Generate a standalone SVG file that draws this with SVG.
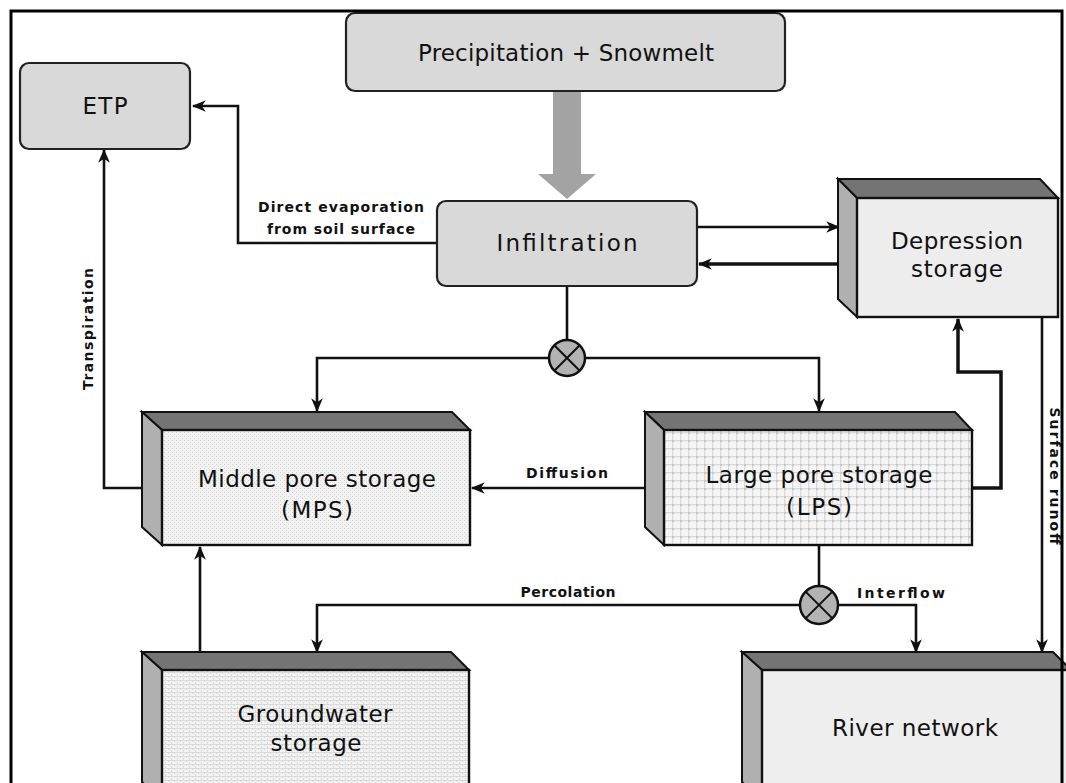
<svg xmlns="http://www.w3.org/2000/svg" width="1066" height="783" viewBox="0 0 1066 783">
<defs>
<style>
.rbox{fill:#d9d9d9;stroke:#222;stroke-width:2.2}
.top{fill:#747474;stroke:#111;stroke-width:2}
.side{fill:#b0b0b0;stroke:#111;stroke-width:2}
.front{stroke:#111;stroke-width:2.4}
.t{font-family:"DejaVu Sans","Liberation Sans",sans-serif;font-size:23px;fill:#111;text-anchor:middle}
.s{font-family:"DejaVu Sans","Liberation Sans",sans-serif;font-size:14px;font-weight:bold;fill:#111;text-anchor:middle}
.c{fill:none;stroke:#111;stroke-width:2.6}
.ck{fill:none;stroke:#111;stroke-width:3.5}
.x{fill:#b3b3b3;stroke:#111;stroke-width:2.5}
</style>
<marker id="ah" viewBox="0 0 12 10" refX="11" refY="5" markerWidth="14" markerHeight="12" orient="auto" markerUnits="userSpaceOnUse"><path d="M0,0 L12,5 L0,10 L3.5,5 z" fill="#111"/></marker>
<pattern id="pFine" width="4" height="4" patternUnits="userSpaceOnUse"><rect width="4" height="4" fill="#f2f2f2"/><rect x="0" y="0" width="1" height="1" fill="#cfcfcf"/><rect x="2" y="2" width="1" height="1" fill="#d6d6d6"/></pattern>
<pattern id="pGrid" width="8" height="8" patternUnits="userSpaceOnUse"><rect width="8" height="8" fill="#f6f6f6"/><rect x="0" y="0" width="8" height="1.3" fill="#d9d9d9"/><rect x="0" y="0" width="1.3" height="8" fill="#d9d9d9"/><rect x="0" y="0" width="2" height="2" fill="#c6c6c6"/></pattern>
<pattern id="pBrick" width="6" height="4" patternUnits="userSpaceOnUse"><rect width="6" height="4" fill="#f3f3f3"/><rect x="0" y="0" width="6" height="0.8" fill="#d4d4d4"/><rect x="0" y="0" width="0.8" height="2" fill="#d4d4d4"/><rect x="3" y="2" width="0.8" height="2" fill="#d4d4d4"/></pattern>
</defs>
<rect width="1066" height="783" fill="#fff"/>

<g id="connectors">
<polygon points="553,91 581,91 581,174 596,174 567,199 538,174 553,174" fill="#a3a3a3"/>
<polyline class="c" points="437,243 238,243 238,106 193,106" marker-end="url(#ah)"/>
<line class="c" x1="697" y1="227" x2="839" y2="227" marker-end="url(#ah)"/>
<line class="ck" x1="839" y1="264" x2="699" y2="264" marker-end="url(#ah)"/>
<line class="c" x1="567" y1="286" x2="567" y2="340"/>
<polyline class="c" points="549,358 317,358 317,411" marker-end="url(#ah)"/>
<polyline class="c" points="586,358 819,358 819,411" marker-end="url(#ah)"/>
<line class="c" x1="645" y1="488" x2="472" y2="488" marker-end="url(#ah)"/>
<polyline class="c" points="150,488 104,488 104,150" marker-end="url(#ah)"/>
<line class="c" x1="200" y1="661" x2="200" y2="547" marker-end="url(#ah)"/>
<line class="c" x1="819" y1="545" x2="819" y2="586"/>
<polyline class="c" points="800,605 317,605 317,652" marker-end="url(#ah)"/>
<polyline class="c" points="838,605 916,605 916,652" marker-end="url(#ah)"/>
<polyline class="ck" points="972,488 1001,488 1001,372 958,372 958,319" marker-end="url(#ah)"/>
<line class="c" x1="1042" y1="317" x2="1042" y2="652" marker-end="url(#ah)"/>
<text class="s" x="341" y="212" textLength="166" lengthAdjust="spacing">Direct evaporation</text>
<text class="s" x="341" y="234" textLength="148" lengthAdjust="spacing">from soil surface</text>
<text class="s" x="567" y="478" textLength="82" lengthAdjust="spacing">Diffusion</text>
<text class="s" x="568" y="597" textLength="95" lengthAdjust="spacing" font-weight="normal">Percolation</text>
<text class="s" x="901" y="598" textLength="88" lengthAdjust="spacing">Interflow</text>
<text class="s" transform="translate(93,329) rotate(-90)" x="0" y="0" textLength="122" lengthAdjust="spacing">Transpiration</text>
<text class="s" transform="translate(1050,476) rotate(90)" x="0" y="0" textLength="137" lengthAdjust="spacing">Surface runoff</text>
</g>

<g id="mix1">
<circle class="x" cx="567" cy="358" r="18"/>
<path d="M554.3,345.3 L579.7,370.7 M579.7,345.3 L554.3,370.7" stroke="#111" stroke-width="2"/>
</g>
<g id="mix2">
<circle class="x" cx="819" cy="605" r="19"/>
<path d="M805.6,591.6 L832.4,618.4 M832.4,591.6 L805.6,618.4" stroke="#111" stroke-width="2"/>
</g>

<g id="precip">
<rect class="rbox" x="346" y="13" width="439" height="78" rx="9"/>
<text class="t" x="566" y="61" textLength="296" lengthAdjust="spacing">Precipitation + Snowmelt</text>
</g>
<g id="etp">
<rect class="rbox" x="20" y="63" width="170" height="86" rx="9"/>
<text class="t" x="105" y="114" textLength="45" lengthAdjust="spacing">ETP</text>
</g>
<g id="infiltration">
<rect class="rbox" x="437" y="201" width="260" height="85" rx="9"/>
<text class="t" x="567" y="251" textLength="141" lengthAdjust="spacing">Infiltration</text>
</g>
<g id="depression">
<polygon class="top" points="838,179 1040,179 1058,198 857,198"/>
<polygon class="side" points="838,179 857,198 857,317 838,299"/>
<rect class="front" x="857" y="198" width="201" height="119" fill="#ededed"/>
<text class="t" x="957" y="249" textLength="132" lengthAdjust="spacing">Depression</text>
<text class="t" x="957" y="277" textLength="92" lengthAdjust="spacing">storage</text>
</g>
<g id="mps">
<polygon class="top" points="142,412 452,412 470,430 162,430"/>
<polygon class="side" points="142,412 162,430 162,545 142,527"/>
<rect class="front" x="162" y="430" width="308" height="115" fill="url(#pFine)"/>
<text class="t" x="317" y="487" textLength="238" lengthAdjust="spacing">Middle pore storage</text>
<text class="t" x="317" y="518" textLength="72" lengthAdjust="spacing">(MPS)</text>
</g>
<g id="lps">
<polygon class="top" points="645,412 955,412 972,430 664,430"/>
<polygon class="side" points="645,412 664,430 664,545 645,527"/>
<rect class="front" x="664" y="430" width="308" height="115" fill="url(#pGrid)"/>
<text class="t" x="819" y="483" textLength="227" lengthAdjust="spacing">Large pore storage</text>
<text class="t" x="819" y="515" textLength="66" lengthAdjust="spacing">(LPS)</text>
</g>
<g id="groundwater">
<polygon class="top" points="142,652 451,652 469,670 162,670"/>
<polygon class="side" points="142,652 162,670 162,800 142,782"/>
<rect class="front" x="162" y="670" width="307" height="140" fill="url(#pBrick)"/>
<text class="t" x="315" y="722" textLength="155" lengthAdjust="spacing">Groundwater</text>
<text class="t" x="316" y="751" textLength="91" lengthAdjust="spacing">storage</text>
</g>
<g id="river">
<polygon class="top" points="742,652 1053,652 1071,670 762,670"/>
<polygon class="side" points="742,652 762,670 762,800 742,782"/>
<rect class="front" x="762" y="670" width="310" height="140" fill="#eeeeee"/>
<text class="t" x="915" y="736" textLength="166" lengthAdjust="spacing">River network</text>
</g>
<path id="frame" d="M11,783 V11 H1062 V783" fill="none" stroke="#000" stroke-width="3"/>
</svg>
